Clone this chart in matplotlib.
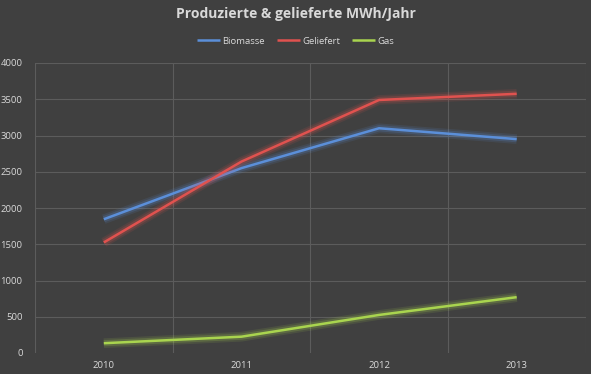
"""Produzierte & gelieferte MWh/Jahr - line chart in a dark Excel style"""

import matplotlib
matplotlib.use("Agg")
import matplotlib.pyplot as plt
import matplotlib.patheffects as pe
from matplotlib.ticker import MultipleLocator, FixedLocator

years = ["2010", "2011", "2012", "2013"]
biomasse = [1845, 2550, 3100, 2950]
geliefert = [1525, 2640, 3490, 3575]
gas = [135, 225, 525, 770]

BG = "#404040"
GRID = "#5c5c5c"
TEXT = "#d9d9d9"

series = [
    ("Biomasse", biomasse, "#5b8fd9"),
    ("Geliefert", geliefert, "#e0524f"),
    ("Gas", gas, "#a9d44f"),
]

plt.rcParams["font.family"] = ["Open Sans", "DejaVu Sans"]

fig = plt.figure(figsize=(5.91, 3.74), dpi=100, facecolor=BG)
ax = fig.add_axes([35 / 591, 1 - 353 / 374, (585.5 - 35) / 591, (353 - 63) / 374])
ax.set_facecolor(BG)

x = list(range(len(years)))
for name, vals, colour in series:
    ax.plot(x, vals, color=colour, lw=1.8, label=name, solid_capstyle="butt",
            path_effects=[pe.Stroke(linewidth=7, foreground=colour, alpha=0.12),
                          pe.Stroke(linewidth=4.5, foreground=colour, alpha=0.2),
                          pe.Normal()])

ax.set_xlim(-0.5, len(years) - 0.5)
ax.set_ylim(0, 4000)
ax.yaxis.set_major_locator(MultipleLocator(500))
ax.set_xticks(x)
ax.set_xticklabels(years)
ax.xaxis.set_minor_locator(FixedLocator([i + 0.5 for i in range(-1, len(years))]))

ax.grid(False)
for v in range(500, 4001, 500):
    ax.axhline(v, color=GRID, lw=0.8, zorder=0)
ax.grid(True, which="minor", axis="x", color=GRID, lw=0.8)

for s in ax.spines.values():
    s.set_visible(False)

ax.tick_params(axis="both", which="both", length=0, colors=TEXT, labelsize=6.8)
ax.tick_params(axis="y", pad=9)
ax.tick_params(axis="x", pad=6)

fig.text(0.5, 1 - 14 / 374, "Produzierte & gelieferte MWh/Jahr", ha="center", va="center",
         color=TEXT, fontsize=10, fontweight="bold")

leg = fig.legend(loc="center", bbox_to_anchor=(0.5, 1 - 41 / 374), ncol=3, frameon=False,
                 fontsize=6.8, handlelength=2.4, columnspacing=1.3, handletextpad=0.25)
for t in leg.get_texts():
    t.set_color(TEXT)
# plain legend keys, no glow
for h in leg.legend_handles:
    h.set_path_effects([])
    h.set_linewidth(1.8)

fig.savefig("out.png", dpi=100, facecolor=BG)
